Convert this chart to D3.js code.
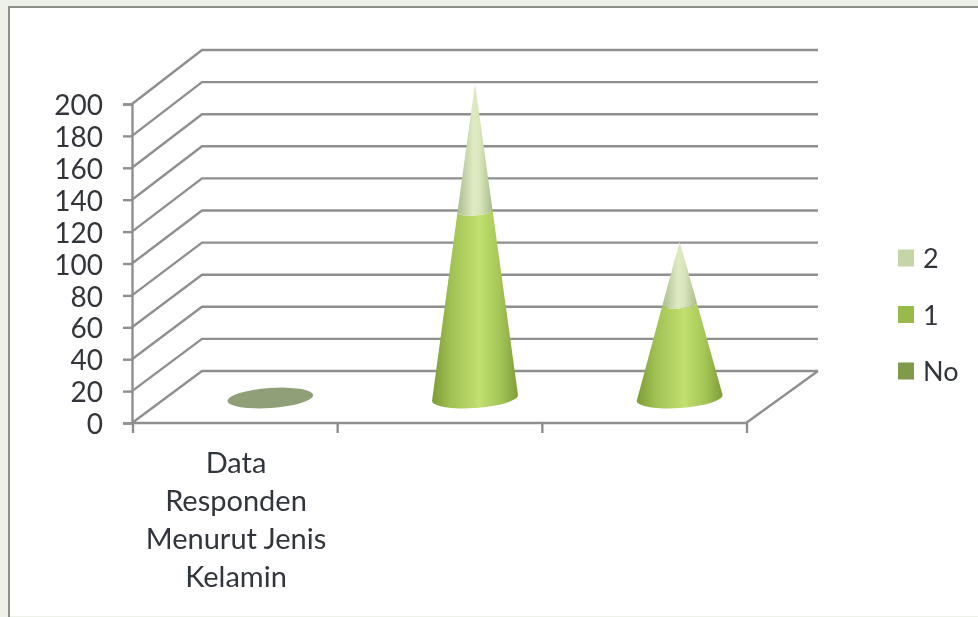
<!DOCTYPE html>
<html>
  <head>
    <meta charset="utf-8">
    <script src="https://d3js.org/d3.v7.min.js"></script>
    <style>
      html, body { margin: 0; padding: 0; background: #eef0ea; overflow: hidden; }
      svg { display: block; }
      text { font-family: Lato, "Open Sans", sans-serif; fill: #33363a; }
    </style>
  </head>
  <body>
    <svg width="978" height="617"></svg>
    <script>
      // values
      const categories = ['Data Responden Menurut Jenis Kelamin', 'B', 'C'];
      const categoryLines = ['Data', 'Responden', 'Menurut Jenis', 'Kelamin'];
      const seriesNames = ['2', '1', 'No'];
      const seriesNo = [1, 0, 0];
      const series1 = [0, 116, 58];
      const series2 = [0, 80, 39];
      const yTicks = [0, 20, 40, 60, 80, 100, 120, 140, 160, 180, 200];

      const svg = d3.select('svg');
      const depth = {x: 72, y: -52};

      const x = d3.scaleBand().domain(categories).range([132, 746]);
      const yFront = d3.scaleLinear().domain([0, 200]).range([423, 104]);
      const yBack = d3.scaleLinear().domain([0, 200]).range([371, 50]);
      const yMid = d3.scaleLinear().domain([0, 200]).range([397, 77]);

      const defs = svg.append('defs');
      defs.append('filter').attr('id', 'soft')
        .append('feGaussianBlur').attr('stdDeviation', 0.55);

      function gradient(id, stops) {
        const g = defs.append('linearGradient').attr('id', id);
        stops.forEach(s => g.append('stop').attr('offset', s[0]).attr('stop-color', s[1]));
      }
      gradient('coneLower', [[0, '#7d9c36'], [0.22, '#a0c153'], [0.55, '#c2df70'], [0.8, '#a3c555'], [1, '#7e9d38']]);
      gradient('coneUpper', [[0, '#aabd8c'], [0.45, '#dfeac4'], [0.65, '#d8e5ba'], [1, '#a9bb8c']]);

      // sweep 0 runs left to right under the ellipse, sweep 1 right to left
      function arc(rx, ry, rot, sweep, px, py) {
        return `A${rx},${ry} ${rot} 0 ${sweep} ${px},${py}`;
      }

      // panel, only top and left edges show
      svg.append('rect').attr('x', 9).attr('y', 7).attr('width', 975).attr('height', 609)
        .attr('fill', '#fff');
      svg.append('path').attr('d', 'M9,617V7H978')
        .attr('fill', 'none').attr('stroke', '#8b8d86').attr('stroke-width', 2)
        .attr('filter', 'url(#soft)');

      const chart = svg.append('g').attr('filter', 'url(#soft)');

      // walls and gridlines
      chart.append('g').selectAll('path').data(yTicks).enter().append('path')
        .attr('d', d => d3.line()([
          [132, yFront(d)],
          [202, yBack(d)],
          [818, yBack(d)]
        ]))
        .attr('fill', 'none').attr('stroke', '#8f8f8f').attr('stroke-width', 2.4);

      // floor edges
      chart.append('path')
        .attr('d', d3.line()([[132, 423], [746, 423], [818, 371]]))
        .attr('fill', 'none').attr('stroke', '#8f8f8f').attr('stroke-width', 2.4);

      // axes
      const yAxis = chart.append('g').attr('transform', 'translate(132,0)')
        .call(d3.axisLeft(yFront).tickValues(yTicks).tickSize(9).tickPadding(20));
      yAxis.selectAll('text').attr('dy', '0.38em').style('font-size', '28px');
      yAxis.selectAll('line').attr('stroke', '#8f8f8f').attr('stroke-width', 2.4);
      yAxis.select('.domain').attr('stroke', '#8f8f8f').attr('stroke-width', 2.4);

      const xTickPos = categories.map(c => x(c)).concat([746]);
      chart.append('g').selectAll('line').data(xTickPos).enter().append('line')
        .attr('x1', d => d + 1).attr('x2', d => d + 1)
        .attr('y1', 423).attr('y2', 433)
        .attr('stroke', '#8f8f8f').attr('stroke-width', 2.4);

      // category label
      chart.append('g').selectAll('text').data(categoryLines).enter().append('text')
        .attr('x', 236).attr('y', (d, i) => 473 + i * 38)
        .attr('text-anchor', 'middle').style('font-size', '29px')
        .text(d => d);

      // cones
      const rx = x.bandwidth() * 0.21;
      const ry = 10;
      const tilt = -4;
      const baseY = yMid(0) + 1;

      categories.forEach((c, i) => {
        const cx = x(c) + x.bandwidth() / 2 + depth.x / 2;
        const split = series1[i];
        const total = split + series2[i];
        if (total === 0) {
          chart.append('ellipse')
            .attr('cx', cx).attr('cy', baseY)
            .attr('rx', rx).attr('ry', ry)
            .attr('transform', `rotate(${tilt} ${cx} ${baseY})`)
            .attr('fill', '#8f9f78');
          return;
        }
        const tipY = yMid(total);
        const splitY = yMid(split);
        const w = rx * (1 - split / total);
        const dy = Math.sin(-tilt * Math.PI / 180) * rx;
        const wy = Math.sin(-tilt * Math.PI / 180) * w;

        chart.append('path')
          .attr('d', `M${cx - w},${splitY + wy} L${cx - rx},${baseY + dy}
            ${arc(rx, ry, tilt, 0, cx + rx, baseY - dy)}
            L${cx + w},${splitY - wy}
            ${arc(w, ry * w / rx, tilt, 1, cx - w, splitY + wy)} Z`)
          .attr('fill', 'url(#coneLower)');

        chart.append('path')
          .attr('d', `M${cx},${tipY} L${cx + w},${splitY - wy}
            ${arc(w, ry * w / rx, tilt, 1, cx - w, splitY + wy)} Z`)
          .attr('fill', 'url(#coneUpper)');
      });

      // legend
      const legendColors = d3.scaleOrdinal().domain(seriesNames).range(['#c6d5a8', '#97ba4c', '#7f9a48']);
      const legendY = d3.scalePoint().domain(seriesNames).range([258, 371]);
      const legend = chart.append('g').selectAll('g').data(seriesNames).enter().append('g')
        .attr('transform', d => `translate(898,${legendY(d)})`);
      legend.append('rect').attr('x', 0).attr('y', -8.5).attr('width', 16).attr('height', 17)
        .attr('fill', d => legendColors(d));
      legend.append('text').attr('x', 25).attr('y', 10)
        .style('font-size', '27px').text(d => d);
    </script>
  </body>
</html>
